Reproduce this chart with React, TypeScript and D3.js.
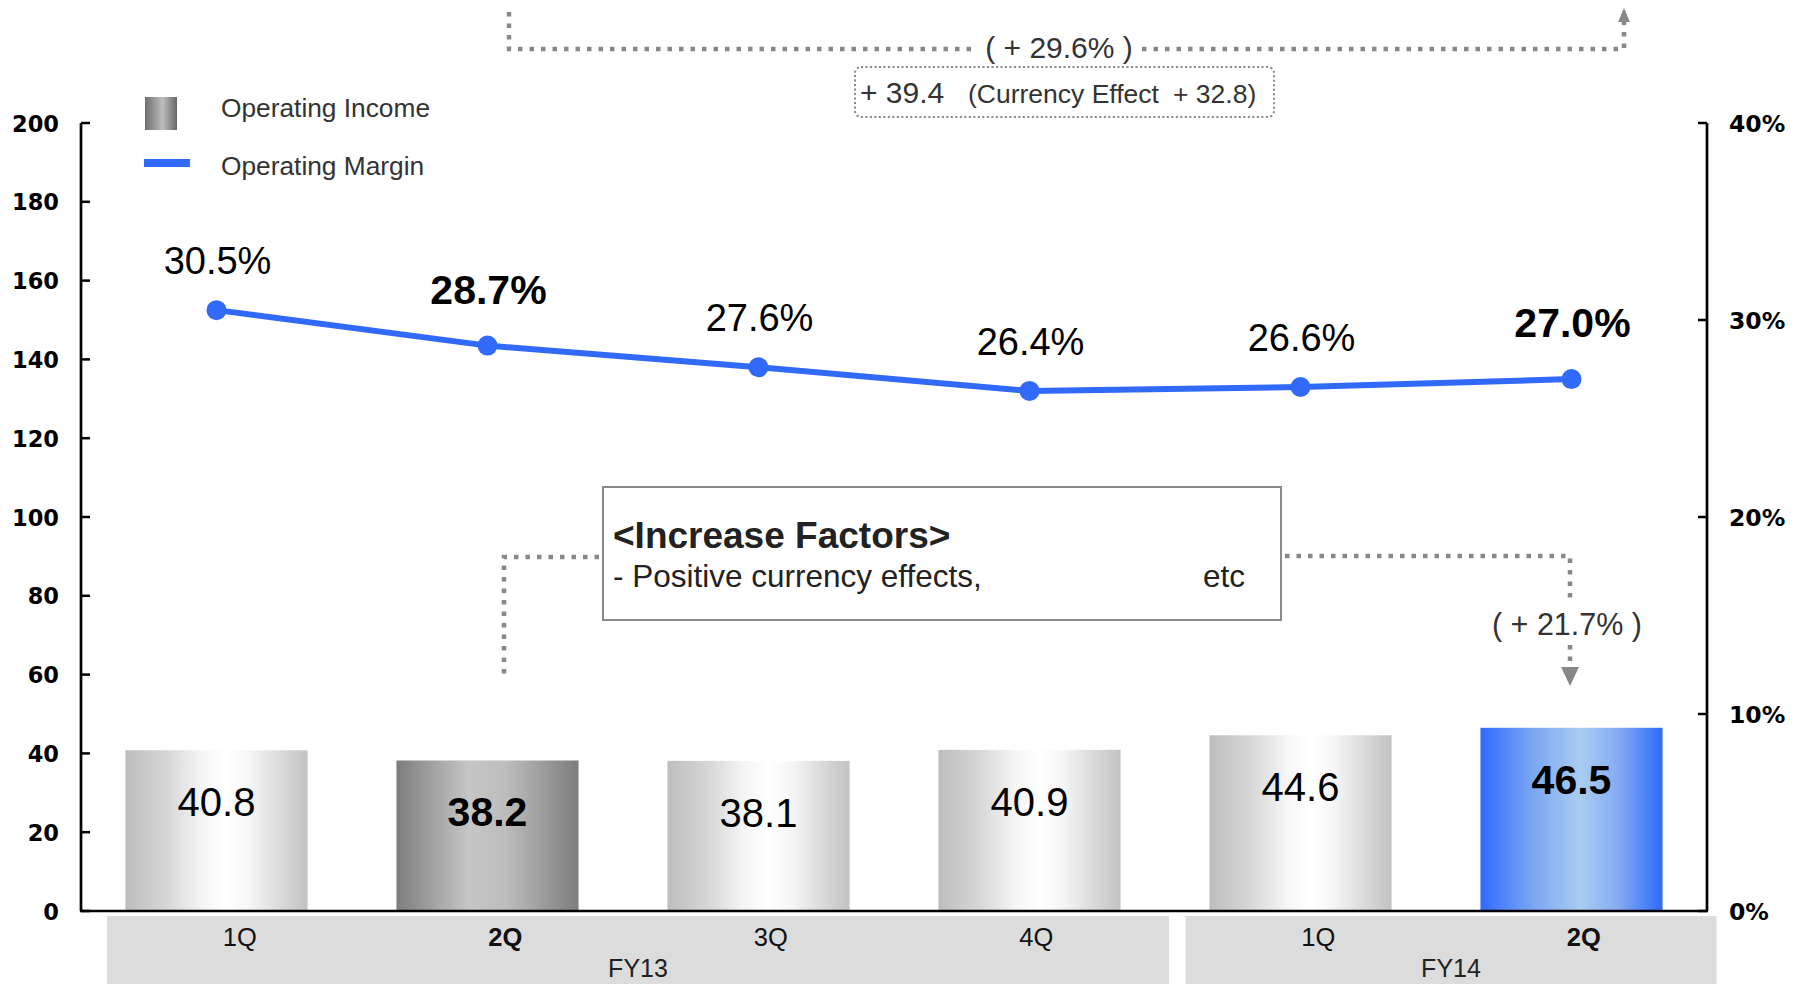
import React from "react";
import * as d3 from "d3";

const quarters = ["1Q", "2Q", "3Q", "4Q", "1Q", "2Q"];
const fiscalYears = ["FY13", "FY13", "FY13", "FY13", "FY14", "FY14"];
const operatingIncome = [40.8, 38.2, 38.1, 40.9, 44.6, 46.5];
const operatingMargin = [30.5, 28.7, 27.6, 26.4, 26.6, 27.0];
const highlighted = [false, true, false, false, false, true];
const leftTicks = [0, 20, 40, 60, 80, 100, 120, 140, 160, 180, 200];
const rightTicks = [0, 10, 20, 30, 40];
const fyGroups = ["FY13", "FY14"];

const W = 1809;
const H = 984;
const FONT = "'Liberation Sans', Arial, sans-serif";
const AXFONT = "'DejaVu Sans', Verdana, sans-serif";
const BLUE = "#3169F9";
const DOT = "#888888";

export default function App() {
  const idx = operatingIncome.map((_, i) => String(i));
  const x = d3
    .scaleBand<string>()
    .domain(idx)
    .range([81, 1707])
    .paddingInner(0.328)
    .paddingOuter(0.164);
  const yL = d3.scaleLinear().domain([0, 200]).range([911, 123]);
  const yR = d3.scaleLinear().domain([0, 40]).range([911, 123]);
  const cx = (i: number) => (x(String(i)) as number) + x.bandwidth() / 2;

  const line = d3
    .line<number>()
    .x((_, i) => cx(i))
    .y((d) => yR(d));

  // category table below axis
  const tableLeft = 107;
  const groupGap = 16.5;
  const cellW = 265.5;
  const cellX = (i: number) => {
    const g = fyGroups.indexOf(fiscalYears[i]);
    return tableLeft + i * cellW + g * groupGap;
  };

  const fillFor = (i: number) =>
    highlighted[i] ? (fiscalYears[i] === "FY14" ? "url(#gBlue)" : "url(#gDark)") : "url(#gLight)";

  const dotted = {
    stroke: DOT,
    strokeWidth: 4.5,
    strokeDasharray: "4.5 7",
    fill: "none",
  } as const;

  return (
    <svg
      width={W}
      height={H}
      style={{ position: "absolute", left: 0, top: 0, display: "block", background: "#fff" }}
      fontFamily={FONT}
    >
      <defs>
        <linearGradient id="gLight" x1="0" x2="1" y1="0" y2="0">
          <stop offset="0%" stopColor="#bdbdbd" />
          <stop offset="22%" stopColor="#d6d6d6" />
          <stop offset="42%" stopColor="#f5f5f5" />
          <stop offset="55%" stopColor="#ffffff" />
          <stop offset="68%" stopColor="#f6f6f6" />
          <stop offset="100%" stopColor="#c2c2c2" />
        </linearGradient>
        <linearGradient id="gDark" x1="0" x2="1" y1="0" y2="0">
          <stop offset="0%" stopColor="#7d7d7d" />
          <stop offset="40%" stopColor="#c6c6c6" />
          <stop offset="60%" stopColor="#bdbdbd" />
          <stop offset="100%" stopColor="#7d7d7d" />
        </linearGradient>
        <linearGradient id="gBlue" x1="0" x2="1" y1="0" y2="0">
          <stop offset="0%" stopColor="#2f6bfb" />
          <stop offset="30%" stopColor="#7ea8f2" />
          <stop offset="55%" stopColor="#a9cdf0" />
          <stop offset="75%" stopColor="#86acf2" />
          <stop offset="100%" stopColor="#2f6bfb" />
        </linearGradient>
        <linearGradient id="gLegend" x1="0" x2="1" y1="0" y2="0">
          <stop offset="0%" stopColor="#6e6e6e" />
          <stop offset="55%" stopColor="#bdbdbd" />
          <stop offset="100%" stopColor="#666666" />
        </linearGradient>
      </defs>

      {/* category table */}
      {fyGroups.map((fy) => {
        const members = fiscalYears.map((f, i) => (f === fy ? i : -1)).filter((i) => i >= 0);
        const x0 = cellX(members[0]);
        const x1 = cellX(members[members.length - 1]) + cellW;
        return (
          <g key={fy}>
            <rect x={x0} y={916} width={x1 - x0} height={H - 916} fill="#dcdcdc" />
            <text x={(x0 + x1) / 2} y={977} textAnchor="middle" fontSize={25} fill="#222">
              {fy}
            </text>
          </g>
        );
      })}
      {quarters.map((q, i) => (
        <text
          key={"q" + i}
          x={cellX(i) + cellW / 2}
          y={946}
          textAnchor="middle"
          fontSize={25.5}
          fontWeight={highlighted[i] ? "bold" : "normal"}
          fill="#111"
        >
          {q}
        </text>
      ))}

      {/* bars */}
      {operatingIncome.map((v, i) => (
        <rect
          key={"b" + i}
          x={x(String(i))}
          y={yL(v)}
          width={x.bandwidth()}
          height={yL(0) - yL(v)}
          fill={fillFor(i)}
        />
      ))}
      {operatingIncome.map((v, i) => (
        <text
          key={"bl" + i}
          x={cx(i)}
          y={yL(v) + 66}
          textAnchor="middle"
          fontSize={highlighted[i] ? 41 : 40}
          fontWeight={highlighted[i] ? "bold" : "normal"}
          fill="#000"
        >
          {v.toFixed(1)}
        </text>
      ))}

      {/* axes */}
      <line x1={81} x2={81} y1={yL(200)} y2={yL(0)} stroke="#000" strokeWidth={2.7} />
      <line x1={1707} x2={1707} y1={yR(40)} y2={yR(0)} stroke="#000" strokeWidth={2.7} />
      <line x1={80} x2={1708} y1={yL(0)} y2={yL(0)} stroke="#000" strokeWidth={2.7} />
      {leftTicks.map((t) => (
        <g key={"lt" + t}>
          <line x1={81} x2={90} y1={yL(t)} y2={yL(t)} stroke="#000" strokeWidth={2.5} />
          <text
            x={59}
            y={yL(t) + 8.5}
            textAnchor="end"
            fontFamily={AXFONT}
            fontWeight="bold"
            fontSize={22.5}
            fill="#000"
          >
            {t}
          </text>
        </g>
      ))}
      {rightTicks.map((t) => (
        <g key={"rt" + t}>
          <line x1={1698} x2={1707} y1={yR(t)} y2={yR(t)} stroke="#000" strokeWidth={2.5} />
          <text
            x={1729}
            y={yR(t) + 8.5}
            textAnchor="start"
            fontFamily={AXFONT}
            fontWeight="bold"
            fontSize={23.5}
            fill="#000"
          >
            {t + "%"}
          </text>
        </g>
      ))}

      {/* margin line */}
      <path d={line(operatingMargin) || ""} fill="none" stroke={BLUE} strokeWidth={6} />
      {operatingMargin.map((m, i) => (
        <circle key={"c" + i} cx={cx(i)} cy={yR(m)} r={10} fill={BLUE} />
      ))}
      {operatingMargin.map((m, i) => (
        <text
          key={"ml" + i}
          x={cx(i) + 1}
          y={yR(m) - (highlighted[i] ? 42 : 36)}
          textAnchor="middle"
          fontSize={highlighted[i] ? 41 : 38}
          fontWeight={highlighted[i] ? "bold" : "normal"}
          fill="#000"
        >
          {m.toFixed(1) + "%"}
        </text>
      ))}

      {/* legend */}
      <rect x={145} y={97} width={32} height={33} fill="url(#gLegend)" />
      <text x={221} y={117} fontSize={26.3} fill="#333">
        Operating Income
      </text>
      <rect x={144} y={159} width={46} height={8} fill={BLUE} />
      <text x={221} y={175} fontSize={26.3} fill="#333">
        Operating Margin
      </text>

      {/* top bracket annotation */}
      <path d="M509,12 L509,49 L976,49" {...dotted} />
      <path d="M1142,49 L1624,49 L1624,22" {...dotted} />
      <path d="M1618,22 L1630,22 L1624,8 Z" fill={DOT} />
      <text x={1059} y={58} textAnchor="middle" fontSize={30} fill="#333">
        ( + 29.6% )
      </text>
      <rect
        x={855}
        y={67}
        width={419}
        height={50}
        rx={6}
        fill="#fff"
        stroke={DOT}
        strokeWidth={2}
        strokeDasharray="2 2.5"
      />
      <text x={860} y={103} fill="#333">
        <tspan fontSize={30}>+ 39.4</tspan>
        <tspan x={968} fontSize={26.5}>
          (Currency Effect
        </tspan>
        <tspan dx={14} fontSize={26.5}>
          + 32.8)
        </tspan>
      </text>

      {/* increase factors */}
      <path d="M599,557 L504,557 L504,676" {...dotted} />
      <path d="M1285,556 L1570,556 L1570,598" {...dotted} />
      <path d="M1570,645 L1570,668" {...dotted} />
      <path d="M1561,667 L1579,667 L1570,686 Z" fill={DOT} />
      <text x={1567} y={635} textAnchor="middle" fontSize={30.5} fill="#333">
        ( + 21.7% )
      </text>
      <rect x={603} y={487} width={678} height={133} fill="#fff" stroke="#8a8a8a" strokeWidth={2} />
      <text x={613} y={548} fontSize={37} fontWeight="bold" fill="#222">
        {"<Increase Factors>"}
      </text>
      <text x={613} y={587} fontSize={31.5} fill="#222">
        - Positive currency effects,
      </text>
      <text x={1203} y={587} fontSize={31.5} fill="#222">
        etc
      </text>
    </svg>
  );
}
